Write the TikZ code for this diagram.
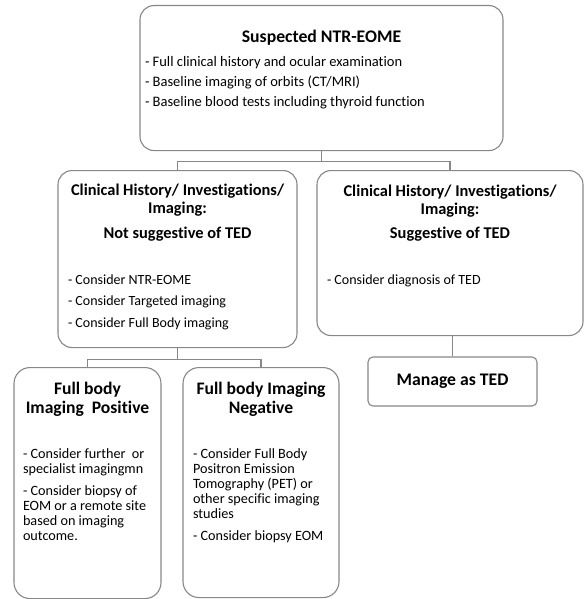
\documentclass[tikz,border=0pt]{standalone}
\usepackage{fontspec}
\setmainfont{Carlito}[Ligatures=CommonOff]
\usetikzlibrary{positioning}
\definecolor{boxgray}{RGB}{135,135,135}
\tikzset{
  box/.style={draw=boxgray, line width=1.1pt, rounded corners=14pt, inner sep=0pt, anchor=north},
  link/.style={draw=boxgray, line width=1.1pt},
}
\newcommand{\boxtext}[3]{\parbox[c][#2][t]{#1}{#3}}
\newcommand{\headline}[2]{{\centering\fontsize{#1}{18}\selectfont\bfseries #2\par}}

\begin{document}
\begin{tikzpicture}[x=1pt,y=1pt]
  \useasboundingbox (0,0) rectangle (584,-599);
  % first level
  \node[box] (suspect) at (321.5,-5) {\boxtext{363pt}{145pt}{%
    \vspace*{24.5pt}\headline{17.7}{Suspected NTR-EOME}
    \vspace{4pt}{\leftskip=5pt\fontsize{14.5}{20}\selectfont
    - Full clinical history and ocular examination\\
    - Baseline imaging of orbits (CT/MRI)\\
    - Baseline blood tests including thyroid function\par}}};
  % second level
  \node[box] (notted) at (177.5,-170) {\boxtext{239pt}{177pt}{%
    \vspace*{13pt}\headline{16.4}{Clinical History/ Investigations/\\Imaging:}
    \vspace{7pt}\headline{16.4}{Not suggestive of TED}
    \vspace{24.5pt}{\leftskip=10pt\fontsize{14}{21.5}\selectfont
    - Consider NTR-EOME\\
    - Consider Targeted imaging\\
    - Consider Full Body imaging\par}}};
  \node[box] (ted) at (450,-170) {\boxtext{266pt}{165pt}{%
    \vspace*{14.5pt}\headline{16.4}{Clinical History/ Investigations/\\Imaging:}
    \vspace{6pt}\headline{16.4}{Suggestive of TED}
    \vspace{24.5pt}{\leftskip=10pt\fontsize{14}{21.5}\selectfont
    - Consider diagnosis of TED\par}}};
  % third level
  \node[box, rounded corners=5pt, anchor=center, minimum width=169pt, minimum height=49pt,
    font=\fontsize{17.7}{20}\selectfont\bfseries] (manage) at (452.5,-381.5) {Manage as TED};
  \node[box, rounded corners=16pt] (positive) at (87.5,-367) {\boxtext{147pt}{231pt}{%
    \vspace*{14.5pt}{\centering\fontsize{17.6}{19}\selectfont\bfseries Full body\\Imaging\ \ Positive\par}
    \vspace{30pt}{\leftskip=9pt\fontsize{14.2}{15}\selectfont
    - Consider further\ \ or\\
    specialist imagingmn\\[7pt]
    - Consider biopsy of\\
    EOM or a remote site\\
    based on imaging\\
    outcome.\par}}};
  \node[box, rounded corners=16pt] (negative) at (261,-367) {\boxtext{156pt}{230pt}{%
    \vspace*{14.5pt}{\centering\fontsize{17.6}{19}\selectfont\bfseries Full body Imaging\\Negative\par}
    \vspace{30pt}{\leftskip=10pt\fontsize{14.2}{15}\selectfont
    - Consider Full Body\\
    Positron Emission\\
    Tomography (PET) or\\
    other specific imaging\\
    studies\\[7pt]
    - Consider biopsy EOM\par}}};
  % connectors
  \draw[link] (suspect.south) -- ++(0,-10) -| (notted.north);
  \draw[link] (suspect.south) -- ++(0,-10) -| (ted.north);
  \draw[link] (notted.south) -- ++(0,-11) -| (positive.north);
  \draw[link] (notted.south) -- ++(0,-11) -| (negative.north);
  \draw[link] (manage.north) -- (manage.north |- ted.south);
\end{tikzpicture}
\end{document}
